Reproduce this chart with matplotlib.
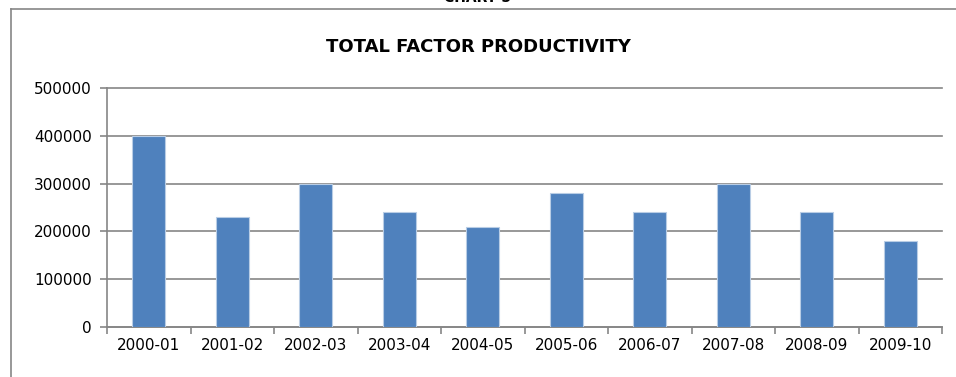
import matplotlib.pyplot as plt
from matplotlib.lines import Line2D

# data
years = ['2000-01', '2001-02', '2002-03', '2003-04', '2004-05',
         '2005-06', '2006-07', '2007-08', '2008-09', '2009-10']
tfp = [400000, 230000, 300000, 240000, 210000,
       280000, 240000, 300000, 240000, 180000]
y_ticks = [0, 100000, 200000, 300000, 400000, 500000]

plt.rcParams['font.family'] = ['DejaVu Sans']

fig = plt.figure(figsize=(9.56, 3.77), dpi=100)
ax = fig.add_axes([107 / 956, 1 - 327 / 377, 835 / 956, 239 / 377])

x = list(range(len(years)))
ax.bar(x, tfp, width=0.4, color='#4f81bd', edgecolor='#b9cde5', linewidth=0.8, zorder=3)

# axes styling (excel-like)
ax.set_xlim(-0.5, len(years) - 0.5)
ax.set_ylim(0, 500000)
ax.set_yticks(y_ticks)
ax.set_yticklabels([str(v) for v in y_ticks], fontsize=11)
ax.set_xticks(x)
ax.set_xticklabels(years, fontsize=11)
ax.tick_params(axis='x', length=0, pad=8)
ax.set_xticks([i - 0.5 for i in range(len(years) + 1)], minor=True)
ax.tick_params(axis='x', which='minor', length=5, width=1.2, color='#868686', direction='out')
ax.tick_params(axis='y', length=5, width=1.2, color='#868686', direction='out', pad=6)
ax.grid(axis='y', color='#868686', linewidth=1.2, zorder=0)
for gl in ax.get_ygridlines():
    gl.set_clip_on(False)
for side in ['top', 'right']:
    ax.spines[side].set_visible(False)
for side in ['left', 'bottom']:
    ax.spines[side].set_color('#868686')
    ax.spines[side].set_linewidth(1.2)

fig.text(0.5, 1 - 47 / 377, 'TOTAL FACTOR PRODUCTIVITY', ha='center', va='center',
         fontsize=13, fontweight='bold')

# outer chart frame, clipped by the image edge
fig.add_artist(Line2D([11 / 956, 11 / 956], [0, 1 - 9 / 377], transform=fig.transFigure,
                      color='#868686', linewidth=1.2))
fig.add_artist(Line2D([11 / 956, 1], [1 - 9 / 377, 1 - 9 / 377], transform=fig.transFigure,
                      color='#868686', linewidth=1.2))
fig.text(0.5, 1.005, 'CHART 5', ha='center', va='center', fontsize=10, fontweight='bold')

fig.savefig('out.png', dpi=100)
